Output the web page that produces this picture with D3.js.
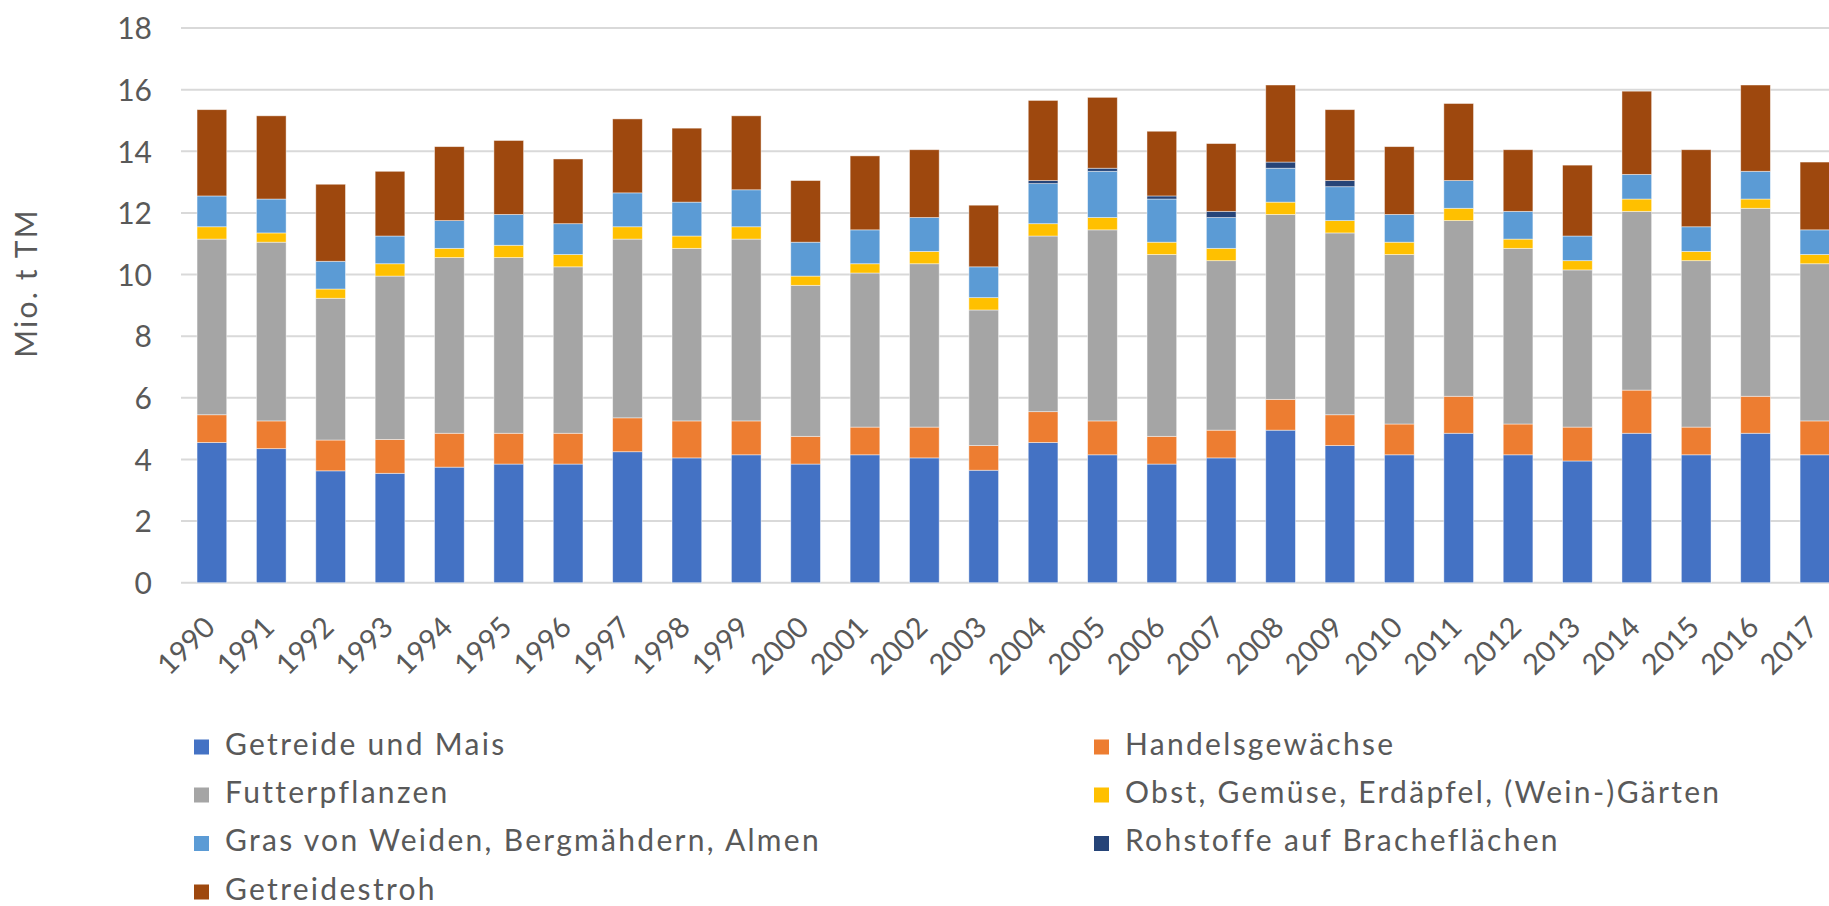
<!DOCTYPE html>
<html>
<head>
<meta charset="utf-8">
<script src="https://cdn.jsdelivr.net/npm/d3@7"></script>
<style>
  body { margin: 0; background: #fff; }
  text { font-family: Lato, "Open Sans", sans-serif; fill: #595959; }
</style>
</head>
<body>
<div class="main"></div>
<script>
// data, Mio. t TM
var years = ["1990","1991","1992","1993","1994","1995","1996","1997","1998","1999",
             "2000","2001","2002","2003","2004","2005","2006","2007","2008","2009",
             "2010","2011","2012","2013","2014","2015","2016","2017"];
var getreide = [4.55,4.35,3.63,3.55,3.75,3.85,3.85,4.25,4.05,4.15,3.85,4.15,4.05,3.65,4.55,4.15,3.85,4.05,4.95,4.45,4.15,4.85,4.15,3.95,4.85,4.15,4.85,4.15];
var handel   = [0.9,0.9,1.0,1.1,1.1,1.0,1.0,1.1,1.2,1.1,0.9,0.9,1.0,0.8,1.0,1.1,0.9,0.9,1.0,1.0,1.0,1.2,1.0,1.1,1.4,0.9,1.2,1.1];
var futter   = [5.7,5.8,4.6,5.3,5.7,5.7,5.4,5.8,5.6,5.9,4.9,5.0,5.3,4.4,5.7,6.2,5.9,5.5,6.0,5.9,5.5,5.7,5.7,5.1,5.8,5.4,6.1,5.1];
var obst     = [0.4,0.3,0.3,0.4,0.3,0.4,0.4,0.4,0.4,0.4,0.3,0.3,0.4,0.4,0.4,0.4,0.4,0.4,0.4,0.4,0.4,0.4,0.3,0.3,0.4,0.3,0.3,0.3];
var gras     = [1.0,1.1,0.9,0.9,0.9,1.0,1.0,1.1,1.1,1.2,1.1,1.1,1.1,1.0,1.3,1.5,1.4,1.0,1.1,1.1,0.9,0.9,0.9,0.8,0.8,0.8,0.9,0.8];
var brache   = [0,0,0,0,0,0,0,0,0,0,0,0,0,0,0.1,0.1,0.1,0.2,0.2,0.2,0,0,0,0,0,0,0,0];
var stroh    = [2.8,2.7,2.5,2.1,2.4,2.4,2.1,2.4,2.4,2.4,2.0,2.4,2.2,2.0,2.6,2.3,2.1,2.2,2.5,2.3,2.2,2.5,2.0,2.3,2.7,2.5,2.8,2.2];

var seriesNames = ["Getreide und Mais","Handelsgewächse","Futterpflanzen",
                   "Obst, Gemüse, Erdäpfel, (Wein-)Gärten","Gras von Weiden, Bergmähdern, Almen",
                   "Rohstoffe auf Bracheflächen","Getreidestroh"];
var seriesValues = [getreide, handel, futter, obst, gras, brache, stroh];
var colors = ["#4472C4","#ED7D31","#A5A5A5","#FFC000","#5B9BD5","#264478","#9E480E"];
var yTicks = [0,2,4,6,8,10,12,14,16,18];

const W = 1829, H = 906;

var svg = d3.select(".main").append("svg")
    .attr("width", W)
    .attr("height", H);

svg.append("rect").attr("width", W).attr("height", H).style("fill", "#fff");

// table for the stack
var table = years.map(function(y, i) {
    var row = {year: y};
    seriesNames.forEach(function(s, k) { row[s] = seriesValues[k][i]; });
    return row;
});
var stacked = d3.stack().keys(seriesNames)(table);

var x = d3.scaleBand()
    .domain(years)
    .range([182.2, 1844.6])
    .paddingInner(0.5)
    .paddingOuter(0.25);

var y = d3.scaleLinear()
    .domain([0, 18])
    .range([582.7, 28]);

// gridlines
svg.append("g")
    .selectAll("line")
    .data(yTicks)
    .enter()
    .append("line")
    .attr("x1", 181)
    .attr("x2", W)
    .attr("y1", function(d) { return y(d); })
    .attr("y2", function(d) { return y(d); })
    .style("stroke", "#D9D9D9")
    .style("stroke-width", 2);

// y axis labels
var yAxis = svg.append("g")
    .attr("transform", "translate(152,0)")
    .call(d3.axisLeft(y).tickValues(yTicks).tickSize(0).tickPadding(0));
yAxis.select(".domain").remove();
yAxis.selectAll("text")
    .style("font-size", "30px")
    .style("font-family", "Lato, sans-serif")
    .attr("fill", "#595959")
    .attr("dy", "0.36em");

// y axis title
svg.append("text")
    .attr("transform", "translate(37,283) rotate(-90)")
    .attr("text-anchor", "middle")
    .style("font-size", "30px")
    .style("letter-spacing", "2.2px")
    .text("Mio. t TM");

// bars
svg.append("g")
    .selectAll("g")
    .data(stacked)
    .enter()
    .append("g")
    .style("fill", function(d, i) { return colors[i]; })
    .selectAll("rect")
    .data(function(d) { return d; })
    .enter()
    .append("rect")
    .attr("x", function(d) { return x(d.data.year); })
    .attr("width", x.bandwidth())
    .attr("y", function(d) { return y(d[1]); })
    .attr("height", function(d) { return Math.max(0, y(d[0]) - y(d[1])); })
    .style("stroke", "#fff")
    .style("stroke-opacity", 0.55)
    .style("stroke-width", 0.8);

// x labels, rotated
var xAxis = svg.append("g")
    .attr("transform", "translate(0,629)")
    .call(d3.axisBottom(x).tickSize(0).tickPadding(0));
xAxis.select(".domain").remove();
xAxis.selectAll("text")
    .style("font-size", "29px")
    .style("font-family", "Lato, sans-serif")
    .attr("fill", "#595959")
    .attr("text-anchor", "end")
    .attr("dy", 0)
    .attr("y", 0)
    .attr("transform", "translate(5,0) rotate(-45)");

// legend, two columns
var legendX = [194, 1094];
var legendY = [747, 795, 843.5, 892];
var legend = svg.append("g")
    .selectAll("g")
    .data(seriesNames)
    .enter()
    .append("g")
    .attr("transform", function(d, i) {
        return "translate(" + legendX[i % 2] + "," + legendY[Math.floor(i / 2)] + ")";
    });

legend.append("rect")
    .attr("x", 0)
    .attr("y", -7.5)
    .attr("width", 15)
    .attr("height", 15)
    .style("fill", function(d, i) { return colors[i]; });

legend.append("text")
    .attr("x", 31)
    .attr("y", 7.5)
    .style("font-size", "30px")
    .style("letter-spacing", "2.3px")
    .text(function(d) { return d; });
</script>
</body>
</html>
